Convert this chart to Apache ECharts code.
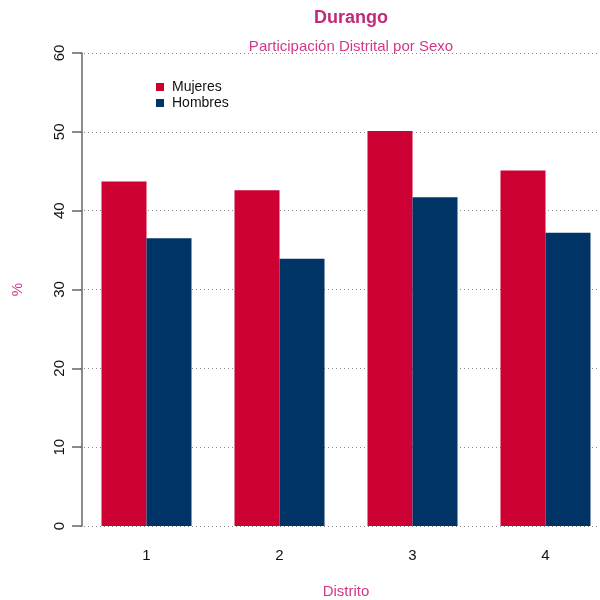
<!DOCTYPE html>
<html>
<head>
<meta charset="utf-8">
<script src="https://cdn.jsdelivr.net/npm/echarts@6/dist/echarts.min.js"></script>
<style>
    html, body { margin: 0; padding: 0; background: #fff; }
    #chart { width: 600px; height: 600px; }
</style>
</head>
<body>
<div id="chart"></div>
<script>
const districts = ["1", "2", "3", "4"];
const mujeres = [43.7, 42.6, 50.1, 45.1];
const hombres = [36.5, 33.9, 41.7, 37.2];
const yTicks = [0, 10, 20, 30, 40, 50, 60];

const FONT = "Liberation Sans, Arial, sans-serif";
const PINK = "#d3388a";

const chart = echarts.init(document.getElementById("chart"));

chart.setOption({
    animation: false,
    textStyle: {
        fontFamily: FONT
    },
    title: [{
        text: "Durango",
        left: 346,
        top: 4,
        textAlign: "center",
        textStyle: {
            color: "#c4277a",
            fontSize: 18,
            fontWeight: "bold",
            fontFamily: FONT
        }
    }, {
        text: "Participación Distrital por Sexo",
        left: 346,
        top: 34,
        textAlign: "center",
        textStyle: {
            color: PINK,
            fontSize: 15,
            fontWeight: "normal",
            fontFamily: FONT
        }
    }],
    legend: {
        orient: "vertical",
        left: 151,
        top: 75,
        itemWidth: 8,
        itemHeight: 8,
        itemGap: 2,
        icon: "rect",
        textStyle: {
            color: "#111",
            fontSize: 14,
            fontFamily: FONT,
            padding: [0, 0, 0, 3]
        },
        data: ["Mujeres", "Hombres"]
    },
    grid: {
        left: 80,
        top: 53,
        width: 532,
        height: 473,
        outerBoundsMode: "none"
    },
    xAxis: {
        type: "category",
        data: districts,
        name: "Distrito",
        nameLocation: "middle",
        nameGap: 58,
        nameTextStyle: {
            color: PINK,
            fontSize: 15,
            fontFamily: FONT
        },
        axisLine: { show: false },
        axisTick: { show: false },
        axisLabel: {
            color: "#111",
            fontSize: 15,
            margin: 22
        }
    },
    yAxis: {
        type: "value",
        min: 0,
        max: 60,
        interval: 10,
        name: "%",
        nameLocation: "middle",
        nameGap: 57,
        nameRotate: 90,
        nameTextStyle: {
            color: PINK,
            fontSize: 15,
            fontFamily: FONT
        },
        offset: -2,
        axisLine: {
            show: true,
            lineStyle: { color: "#666", width: 1.5 }
        },
        axisTick: {
            show: true,
            length: 10,
            lineStyle: { color: "#666", width: 1.5 }
        },
        axisLabel: {
            rotate: 90,
            color: "#111",
            fontSize: 15,
            margin: 15,
            formatter: value => yTicks.includes(value) ? String(value) : ""
        },
        splitLine: {
            show: true,
            lineStyle: {
                color: "#888",
                type: [1, 3],
                width: 1
            }
        }
    },
    series: [{
        name: "Mujeres",
        type: "bar",
        data: mujeres,
        barWidth: 45,
        barGap: "0%",
        itemStyle: { color: "#cc0033" }
    }, {
        name: "Hombres",
        type: "bar",
        data: hombres,
        barWidth: 45,
        barGap: "0%",
        itemStyle: { color: "#003366" }
    }]
});
</script>
</body>
</html>
